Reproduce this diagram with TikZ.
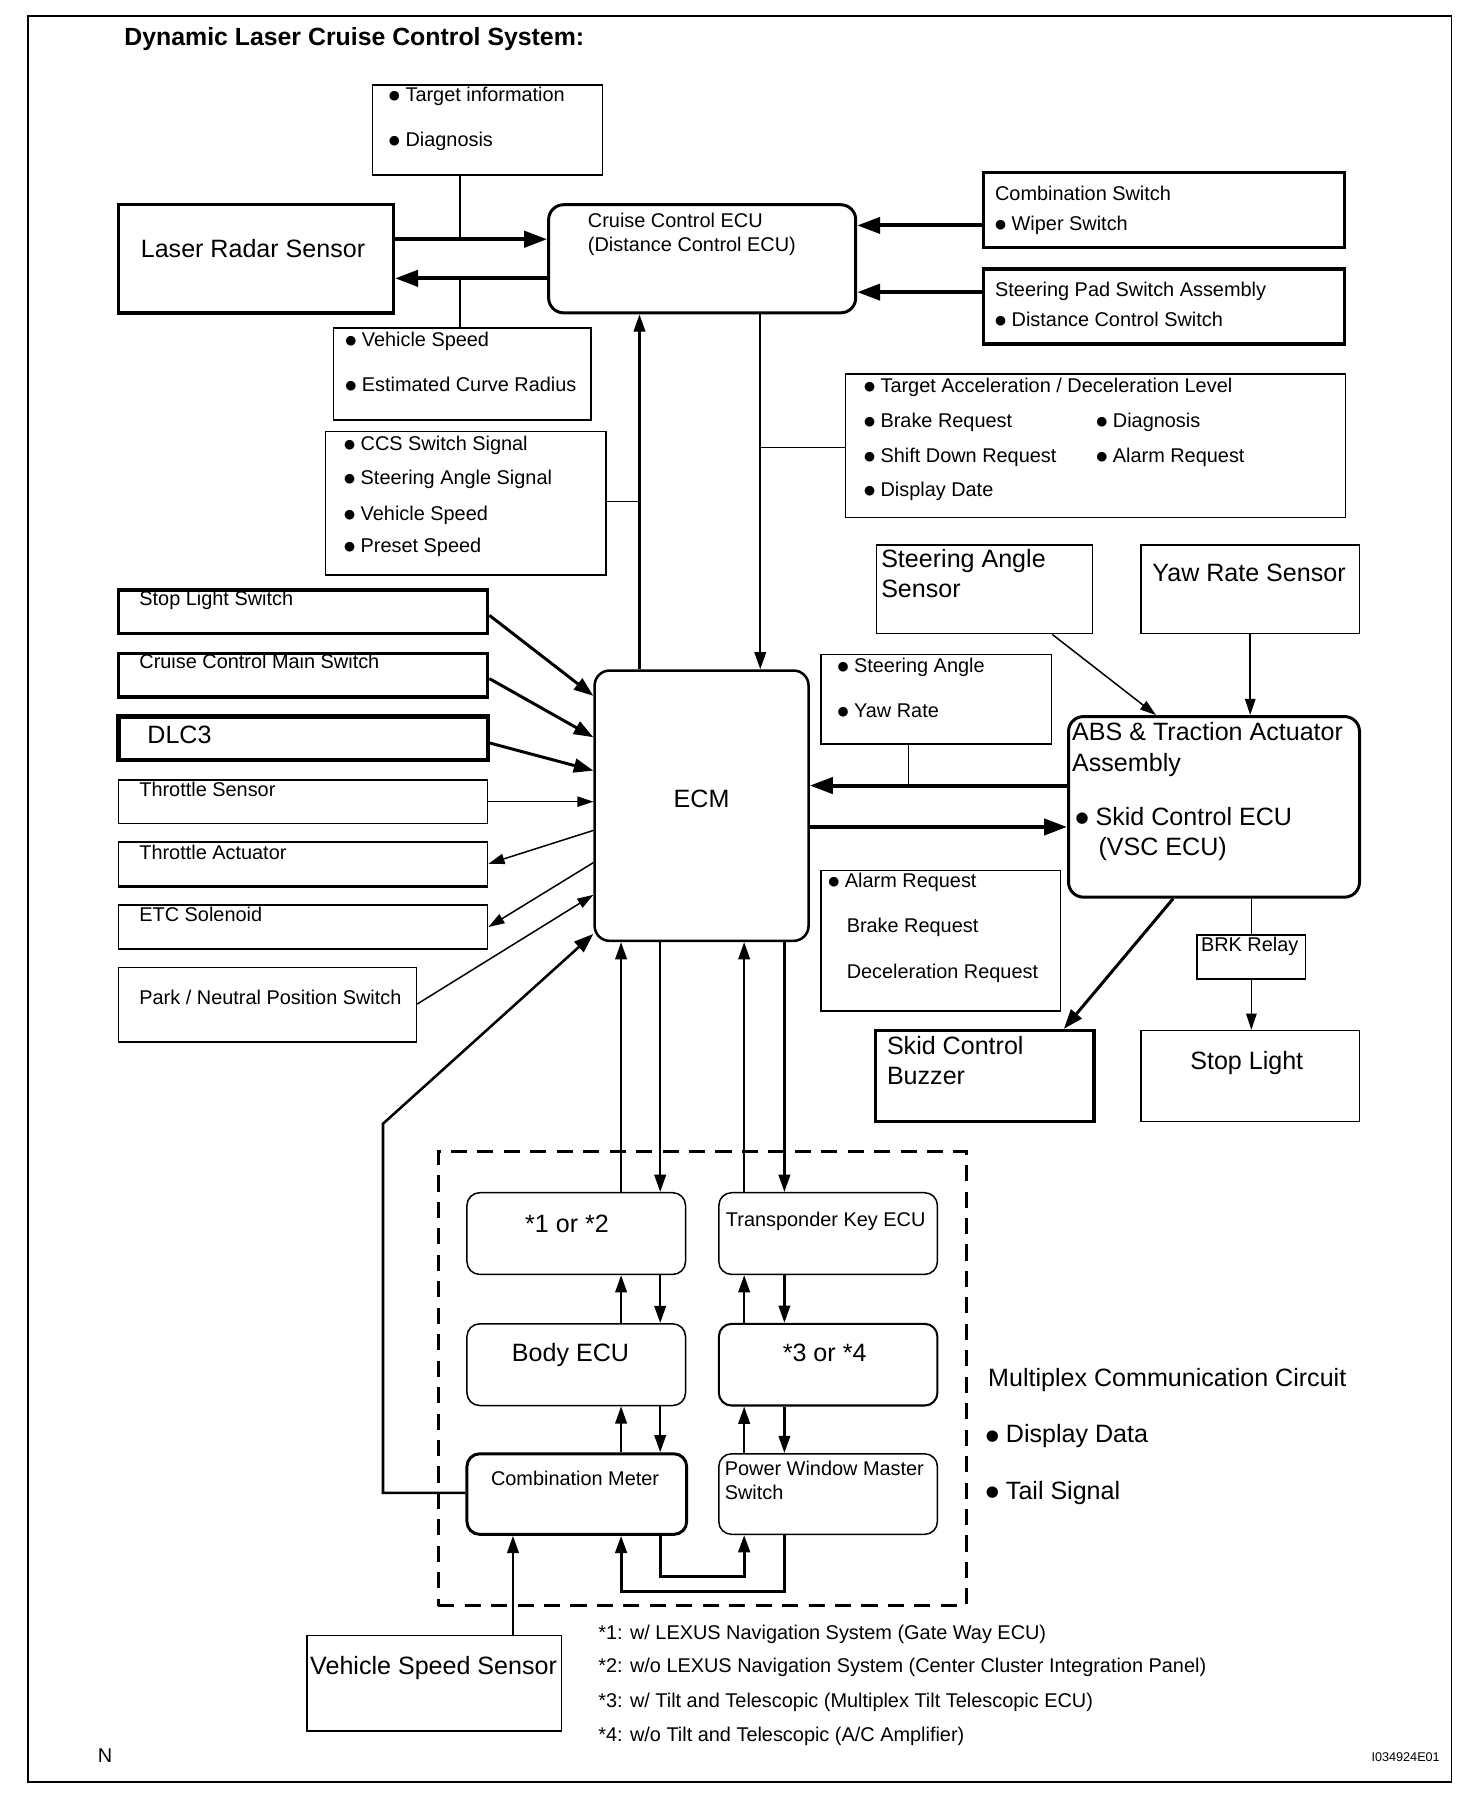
\documentclass[tikz,border=0pt]{standalone}
\usepackage{fontspec}
\setmainfont{Liberation Sans}
\newfontfamily\dvfont{DejaVu Sans}
\newcommand\bul{\raisebox{1.8pt}{\dvfont\fontsize{11}{11}\selectfont ●}}
\newcommand\bbul{\raisebox{2.2pt}{\dvfont\fontsize{13}{13}\selectfont ●}}
\usetikzlibrary{arrows.meta,fit}
\begin{document}
\begin{tikzpicture}[x=1pt,y=-1pt,
  box/.style={draw,line width=1.3pt,inner sep=0pt},
  tbox/.style={draw,line width=3pt,inner sep=0pt},
  rbox/.style={draw,line width=1.3pt,inner sep=0pt,rounded corners=11pt},
  trbox/.style={draw,line width=2.6pt,inner sep=0pt,rounded corners=13pt},
  st/.style={font=\fontsize{17.3}{20}\selectfont,anchor=west,inner sep=0pt,text height=12pt,text depth=3pt},
  bt/.style={font=\fontsize{21.8}{25}\selectfont,anchor=west,inner sep=0pt,text height=15pt,text depth=4pt},
  ln/.style={line width=1.3pt},
  arr/.style={line width=1.3pt,-{Triangle[length=14pt,width=9pt]}},
  marr/.style={line width=2pt,-{Triangle[length=15pt,width=10pt]}},
  larr/.style={line width=2.6pt,-{Triangle[length=17pt,width=12pt]}},
  tarr/.style={line width=3.4pt,-{Triangle[length=20pt,width=14pt]}}
]
\useasboundingbox (0,0) rectangle (1280,1565);
\node[draw,line width=1.6pt,inner sep=0pt,fit={(24,14)(1262,1549)}] (frame) {};
\node[font=\bfseries\fontsize{21.6}{24}\selectfont,anchor=west,inner sep=0pt] (title) at (108,34) {Dynamic Laser Cruise Control System:};

% top area
\node[box,fit={(324,74)(524,152)}] (tinfo) {};
\node[st] (tinfo1) at (338,84) {\bul\ Target information};
\node[st] (tinfo2) at (338,123) {\bul\ Diagnosis};

\node[tbox,fit={(103,178)(342,272)}] (laser) {};
\node[bt,anchor=center] (laserT) at (220,218) {Laser Radar Sensor};

\node[trbox,fit={(477,178)(744,272)}] (cecu) {};
\node[st] (cecu1) at (511,193) {Cruise Control ECU};
\node[st] (cecu2) at (511,214) {(Distance Control ECU)};

\node[tbox,fit={(855,150)(1169,215)}] (comb) {};
\node[st] (comb1) at (865,170) {Combination Switch};
\node[st] (comb2) at (865,196) {\bul\ Wiper Switch};

\node[tbox,fit={(855,234)(1169,299)}] (spad) {};
\node[st] (spad1) at (865,253) {Steering Pad Switch Assembly};
\node[st] (spad2) at (865,279) {\bul\ Distance Control Switch};

\node[box,fit={(290,285)(514,365)}] (vspd) {};
\node[st] (vspd1) at (300,297) {\bul\ Vehicle Speed};
\node[st] (vspd2) at (300,336) {\bul\ Estimated Curve Radius};

\node[box,fit={(283,375)(527,500)}] (ccs) {};
\node[st] (ccs1) at (299,387) {\bul\ CCS Switch Signal};
\node[st] (ccs2) at (299,417) {\bul\ Steering Angle Signal};
\node[st] (ccs3) at (299,448) {\bul\ Vehicle Speed};
\node[st] (ccs4) at (299,476) {\bul\ Preset Speed};

\node[box,fit={(735,325)(1170,450)}] (tacc) {};
\node[st] (tacc1) at (751,337) {\bul\ Target Acceleration / Deceleration Level};
\node[st] (tacc2) at (751,367) {\bul\ Brake Request};
\node[st] (tacc3) at (751,398) {\bul\ Shift Down Request};
\node[st] (tacc4) at (751,427) {\bul\ Display Date};
\node[st] (tacc5) at (953,367) {\bul\ Diagnosis};
\node[st] (tacc6) at (953,398) {\bul\ Alarm Request};

\coordinate (j1) at (400,208);
\coordinate (j2) at (400,242);
\coordinate (j3) at (556,436);
\coordinate (j4) at (661,389);

\draw[tarr] (laser.east |- j1) -- (cecu.west |- j1);
\draw[ln] (tinfo.south -| j1) -- (j1);
\draw[tarr] (cecu.west |- j2) -- (laser.east |- j2);
\draw[ln] (j2) -- (vspd.north -| j2);
\draw[tarr] (comb.west |- 0,196) -- (cecu.east |- 0,196);
\draw[tarr] (spad.west |- 0,254) -- (cecu.east |- 0,254);

% ECM
\node[draw,line width=2.2pt,inner sep=0pt,rounded corners=13pt,fit={(517,583)(703,818)}] (ecm) {};
\node[bt,anchor=center] (ecmT) at (610,697) {ECM};

\draw[marr] (ecm.north -| j3) -- (cecu.south -| j3);
\draw[ln] (ccs.east |- j3) -- (j3);
\draw[marr] (cecu.south -| j4) -- (ecm.north -| j4);
\draw[ln] (j4) -- (tacc.west |- j4);

% sensors right
\node[box,fit={(762,474)(950,551)}] (sas) {};
\node[bt] (sas1) at (766,488) {Steering Angle};
\node[bt] (sas2) at (766,514) {Sensor};
\node[box,fit={(992,474)(1182,551)}] (yaw) {};
\node[bt,anchor=center] (yawT) at (1086,500) {Yaw Rate Sensor};

% left inputs
\node[tbox,fit={(103,513)(424,551)}] (sls) {};
\node[st] (slsT) at (121,522) {Stop Light Switch};
\node[tbox,fit={(103,568)(424,606)}] (ccms) {};
\node[st] (ccmsT) at (121,577) {Cruise Control Main Switch};
\node[draw,line width=3.6pt,inner sep=0pt,fit={(103,623)(424,661)}] (dlc) {};
\node[bt] (dlcT) at (128,641) {DLC3};
\node[box,fit={(103,678)(424,716)}] (ths) {};
\node[st] (thsT) at (121,688) {Throttle Sensor};
\node[box,fit={(103,732)(424,770)}] (tha) {};
\draw[line width=2.6pt] (tha.south west) -- (tha.south east);
\node[st] (thaT) at (121,743) {Throttle Actuator};
\node[box,fit={(103,787)(424,825)}] (etc) {};
\node[st] (etcT) at (121,797) {ETC Solenoid};
\node[box,fit={(103,841)(362,906)}] (pnp) {};
\node[st] (pnpT) at (121,869) {Park / Neutral Position Switch};

\draw[larr] (sls.east |- 0,535) -- (ecm.west |- 0,605);
\draw[larr] (ccms.east |- 0,590) -- (ecm.west |- 0,641);
\draw[larr] (dlc.east |- 0,646) -- (ecm.west |- 0,670);
\draw[arr] (ths.east |- 0,697) -- (ecm.west |- 0,697);
\draw[arr] (ecm.west |- 0,722) -- (tha.east |- 0,751);
\draw[arr] (ecm.west |- 0,750) -- (etc.east |- 0,806);
\draw[arr] (pnp.east |- 0,873) -- (ecm.west |- 0,778);

% ABS
\node[box,fit={(714,569)(914,647)}] (sy) {};
\node[st] (sy1) at (728,580) {\bul\ Steering Angle};
\node[st] (sy2) at (728,619) {\bul\ Yaw Rate};
\node[trbox,fit={(929,623)(1182,780)}] (abs) {};
\node[bt] (abs1) at (932,638) {ABS \& Traction Actuator};
\node[bt] (abs2) at (932,665) {Assembly};
\node[bt] (abs3) at (935,712) {\bbul\ Skid Control ECU};
\node[bt] (abs4) at (955,738) {(VSC ECU)};

\coordinate (j5) at (790,683);
\draw[tarr] (abs.west |- j5) -- (ecm.east |- j5);
\draw[ln] (sy.south -| j5) -- (j5);
\draw[tarr] (ecm.east |- 0,719) -- (abs.west |- 0,719);
\draw[arr] (sas.south -| 915,0) -- (abs.north -| 1005,0);
\draw[arr] (yaw.south) -- (abs.north -| yaw.south);

\node[box,fit={(714,757)(922,879)}] (alrm) {};
\node[st] (alrm1) at (720,767) {\bul\ Alarm Request};
\node[st] (alrm2) at (736,806) {Brake Request};
\node[st] (alrm3) at (736,846) {Deceleration Request};

\node[tbox,fit={(761,896)(951,975)}] (buz) {};
\node[bt] (buz1) at (771,911) {Skid Control};
\node[bt] (buz2) at (771,937) {Buzzer};
\draw[larr] (abs.south -| 1020,0) -- (buz.north -| 925,0);

\node[draw,line width=1.6pt,inner sep=0pt,fit={(1041,813)(1135,851)}] (brk) {};
\node[st] (brkT) at (1044,823) {BRK Relay};
\node[box,fit={(992,896)(1182,975)}] (stop) {};
\node[bt,anchor=center] (stopT) at (1084,924) {Stop Light};
\draw[ln] (abs.south -| brk.north) -- (brk.north);
\draw[arr] (brk.south) -- (stop.north -| brk.south);

% multiplex
\node[draw,dashed,line width=2.6pt,dash pattern=on 14pt off 9pt,inner sep=0pt,fit={(381,1001)(840,1396)}] (mux) {};
\node[rbox,fit={(406,1037)(596,1108)}] (b12) {};
\node[bt,anchor=center] (b12T) at (493,1066) {*1 or *2};
\node[rbox,fit={(625,1037)(815,1108)}] (tkey) {};
\node[st] (tkeyT) at (631,1062) {Transponder Key ECU};
\node[rbox,fit={(406,1151)(596,1222)}] (body) {};
\node[bt,anchor=center] (bodyT) at (496,1178) {Body ECU};
\node[rbox,line width=1.8pt,fit={(625,1151)(815,1222)}] (b34) {};
\node[bt,anchor=center] (b34T) at (717,1178) {*3 or *4};
\node[trbox,rounded corners=11pt,fit={(406,1264)(597,1334)}] (cmeter) {};
\node[st,anchor=center] (cmeterT) at (500,1287) {Combination Meter};
\node[rbox,fit={(625,1264)(815,1334)}] (pw) {};
\node[st] (pw1) at (630,1278) {Power Window Master};
\node[st] (pw2) at (630,1299) {Switch};

\coordinate (c1) at (540,0);
\coordinate (c2) at (574,0);
\coordinate (c3) at (647,0);
\coordinate (c4) at (682,0);

\draw[marr] (b12.north -| c1) -- (ecm.south -| c1);
\draw[marr] (ecm.south -| c2) -- (b12.north -| c2);
\draw[marr] (tkey.north -| c3) -- (ecm.south -| c3);
\draw[marr] (ecm.south -| c4) -- (tkey.north -| c4);

\draw[marr] (body.north -| c1) -- (b12.south -| c1);
\draw[marr] (b12.south -| c2) -- (body.north -| c2);
\draw[marr] (b34.north -| c3) -- (tkey.south -| c3);
\draw[marr] (tkey.south -| c4) -- (b34.north -| c4);

\draw[marr] (cmeter.north -| c1) -- (body.south -| c1);
\draw[marr] (body.south -| c2) -- (cmeter.north -| c2);
\draw[marr] (pw.north -| c3) -- (b34.south -| c3);
\draw[marr] (b34.south -| c4) -- (pw.north -| c4);

\draw[marr,line width=2.6pt] (cmeter.south -| c2) -- (574,1371) -- (647,1371) -- (pw.south -| c3);
\draw[marr,line width=2.6pt] (pw.south -| c4) -- (682,1384) -- (540,1384) -- (cmeter.south -| c1);

\draw[larr,line width=2.2pt] (cmeter.west |- 0,1298) -- (333,1298) -- (333,977) -- (ecm.west |- 0,812);

\node[box,fit={(267,1422)(488,1505)}] (vss) {};
\node[bt,anchor=center] (vssT) at (377,1450) {Vehicle Speed Sensor};
\draw[marr] (vss.north -| 446,0) -- (cmeter.south -| 446,0);

\node[bt] (mc1) at (859,1200) {Multiplex Communication Circuit};
\node[bt] (mc2) at (857,1249) {\bbul\ Display Data};
\node[bt] (mc3) at (857,1298) {\bbul\ Tail Signal};

\node[st] (fn1) at (520,1421) {*1: w/ LEXUS Navigation System (Gate Way ECU)};
\node[st] (fn2) at (520,1450) {*2: w/o LEXUS Navigation System (Center Cluster Integration Panel)};
\node[st] (fn3) at (520,1480) {*3: w/ Tilt and Telescopic (Multiplex Tilt Telescopic ECU)};
\node[st] (fn4) at (520,1510) {*4: w/o Tilt and Telescopic (A/C Amplifier)};

\node[st] (nT) at (85,1528) {N};
\node[font=\fontsize{11}{13}\selectfont,anchor=east,inner sep=0pt] (idT) at (1252,1528) {I034924E01};
\end{tikzpicture}
\end{document}
